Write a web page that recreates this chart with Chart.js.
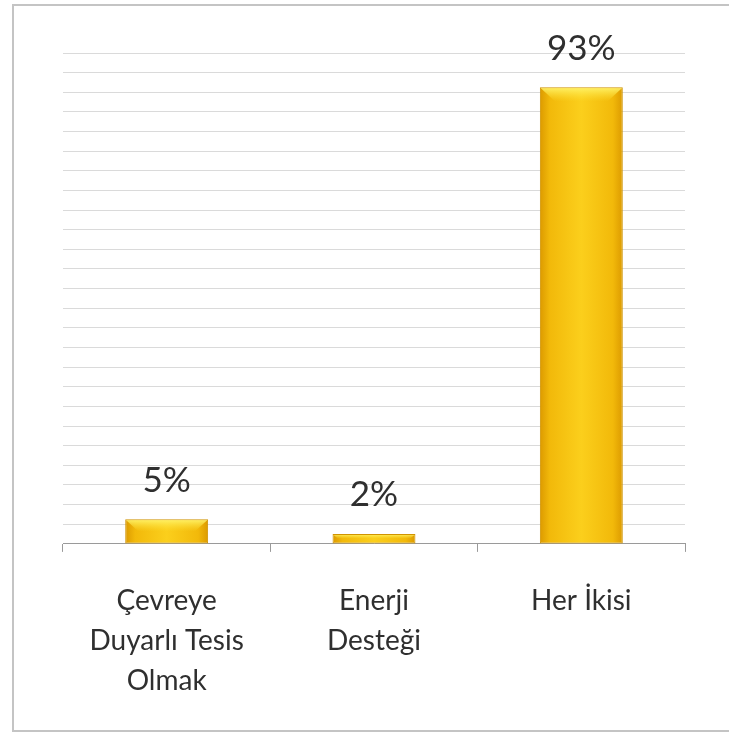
<!DOCTYPE html>
<html>
<head>
<meta charset="utf-8">
<script src="https://cdn.jsdelivr.net/npm/chart.js"></script>
<style>
  html, body { margin: 0; padding: 0; background: #fff; }
  .frame {
    position: relative;
    width: 729px;
    height: 733px;
  }
  .border {
    position: absolute;
    left: 12px; top: 4px; right: -4px; bottom: 1px;
    border: 2px solid #c4c4c4;
    pointer-events: none;
  }
  canvas { position: absolute; left: 0; top: 0; }
</style>
</head>
<body>
<div class="frame">
  <canvas id="chart" width="729" height="733"></canvas>
  <div class="border"></div>
</div>
<script>
// categories (each one split in lines, as in the picture)
const categories = [
  ["Çevreye", "Duyarlı Tesis", "Olmak"],
  ["Enerji", "Desteği"],
  ["Her İkisi"]
];
const shares = [5, 2, 93];
const yMin = 0;
const yMax = 100;
const yStep = 4;

const textColor = "#2f2f2f";

// gold bar, darker at the sides
function barFill(ctx) {
  const chart = ctx.chart;
  const x = chart.scales.x;
  if (!chart.chartArea || !x || ctx.dataIndex === undefined) return "#f2be12";
  const cx = x.getPixelForValue(ctx.dataIndex);
  const half = x.width / categories.length * 0.4 / 2;
  if (!isFinite(cx) || !isFinite(half) || half <= 0) return "#f2be12";
  const g = chart.ctx.createLinearGradient(cx - half, 0, cx + half, 0);
  g.addColorStop(0, "#dc9a00");
  g.addColorStop(0.12, "#f2b90a");
  g.addColorStop(0.5, "#fbcf1c");
  g.addColorStop(0.88, "#f2b90a");
  g.addColorStop(1, "#dc9a00");
  return g;
}

// light bevel on the top of each bar + value labels
const barDecor = {
  id: "barDecor",
  afterDatasetsDraw(chart) {
    const c = chart.ctx;
    const meta = chart.getDatasetMeta(0);
    meta.data.forEach((bar, i) => {
      const p = bar.getProps(["x", "y", "base", "width"], true);
      const l = p.x - p.width / 2, r = p.x + p.width / 2;
      const h = Math.min(14, (p.base - p.y) / 2);
      c.save();
      const g = c.createLinearGradient(0, p.y, 0, p.y + h);
      g.addColorStop(0, "rgba(255,245,110,0.95)");
      g.addColorStop(1, "rgba(255,230,60,0)");
      c.fillStyle = g;
      c.beginPath();
      c.moveTo(l + 1, p.y + 1);
      c.lineTo(r - 1, p.y + 1);
      c.lineTo(r - 1 - h, p.y + h);
      c.lineTo(l + 1 + h, p.y + h);
      c.closePath();
      c.fill();

      c.fillStyle = textColor;
      c.font = "35px Lato";
      c.textAlign = "center";
      c.textBaseline = "middle";
      c.fillText(shares[i] + "%", p.x, p.y - 39);
      c.restore();
    });
  }
};

new Chart(document.getElementById("chart"), {
  type: "bar",
  data: {
    labels: categories,
    datasets: [{
      data: shares,
      backgroundColor: barFill,
      borderColor: "#d09400",
      borderWidth: 1,
      borderSkipped: false,
      barPercentage: 0.4,
      categoryPercentage: 1
    }]
  },
  options: {
    responsive: false,
    animation: false,
    layout: { padding: { left: 63, right: 44, top: 53, bottom: 3 } },
    plugins: {
      legend: { display: false },
      tooltip: { enabled: false }
    },
    scales: {
      y: {
        min: yMin,
        max: yMax,
        ticks: { display: false, stepSize: yStep },
        border: { display: false },
        grid: { color: "#dadada", lineWidth: 1, drawTicks: false }
      },
      x: {
        border: { display: true, color: "#9a9a9a", width: 1 },
        grid: {
          offset: true,
          drawOnChartArea: false,
          drawTicks: true,
          tickLength: 8,
          color: "#9a9a9a"
        },
        ticks: {
          color: textColor,
          padding: 29,
          maxRotation: 0,
          autoSkip: false,
          font: { family: "Lato", size: 28, lineHeight: 1.43 }
        }
      }
    }
  },
  plugins: [barDecor]
});
</script>
</body>
</html>
